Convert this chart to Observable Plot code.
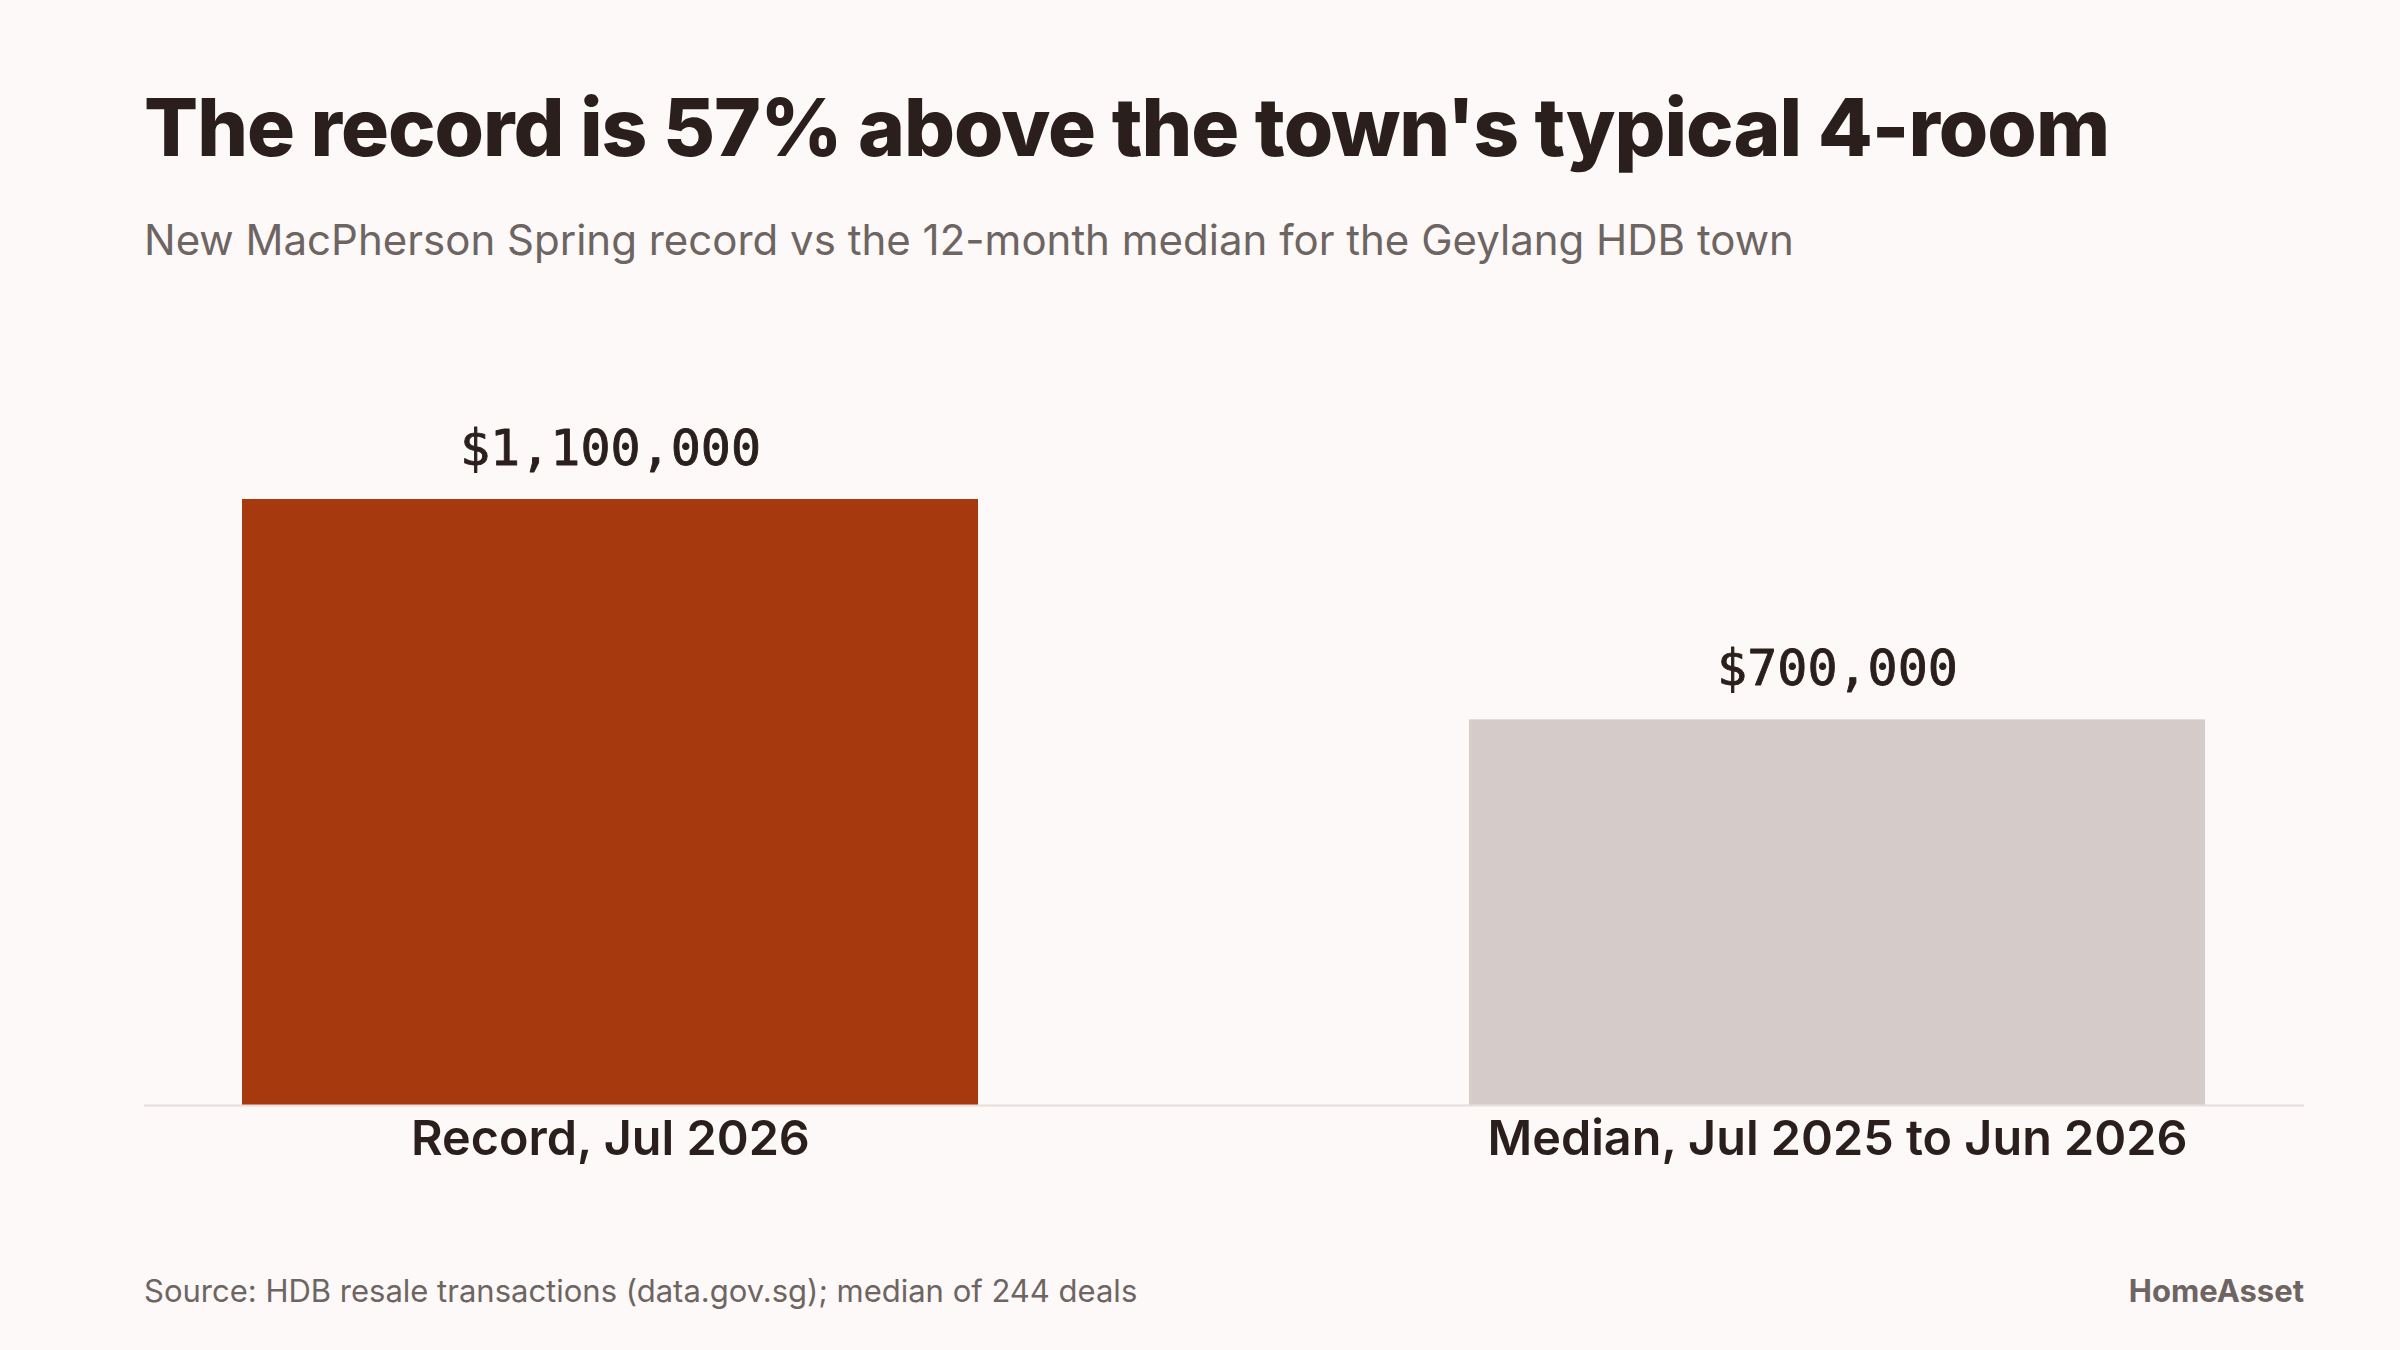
<!DOCTYPE html>
<html>
<head>
<meta charset="utf-8">
<script src="https://cdn.jsdelivr.net/npm/d3@7"></script>
<script src="https://cdn.jsdelivr.net/npm/@observablehq/plot@0.6"></script>
<style>
  html, body { margin: 0; padding: 0; background: #fdf9f8; }
  #page { position: relative; width: 2400px; height: 1350px; background: #fdf9f8; overflow: hidden; font-family: Inter, "Noto Sans", sans-serif; }
  #title { position: absolute; left: 144px; top: 87px; font-size: 80px; font-weight: 800; color: #2a1f1c; letter-spacing: -1px; white-space: nowrap; line-height: 1; }
  #subtitle { position: absolute; left: 144px; top: 219px; font-size: 42px; font-weight: 400; color: #6e6562; white-space: nowrap; line-height: 1; }
  #chart { position: absolute; left: 0; top: 300px; }
  #source { position: absolute; left: 144px; top: 1275px; font-size: 31px; color: #6e6562; white-space: nowrap; line-height: 1; }
  #brand { position: absolute; right: 96px; top: 1275px; font-size: 31px; font-weight: 700; color: #6e6562; white-space: nowrap; line-height: 1; }
</style>
</head>
<body>
<div id="page">
  <div id="title">The record is 57% above the town's typical 4-room</div>
  <div id="subtitle">New MacPherson Spring record vs the 12-month median for the Geylang HDB town</div>
  <div id="chart"></div>
  <div id="source">Source: HDB resale transactions (data.gov.sg); median of 244 deals</div>
  <div id="brand">HomeAsset</div>
</div>
<script>
const categories = ["Record, Jul 2026", "Median, Jul 2025 to Jun 2026"];
const values = [1100000, 700000];
const valueLabels = ["$1,100,000", "$700,000"];
const barColors = ["#a63a0e", "#d5ccc9"];

const data = categories.map((c, i) => ({category: c, value: values[i], label: valueLabels[i]}));

const chart = Plot.plot({
  width: 2400,
  height: 900,
  marginLeft: 144,
  marginRight: 96,
  marginTop: 199,
  marginBottom: 95,
  style: {background: "transparent", fontFamily: "Inter, 'Noto Sans', sans-serif", color: "#2a1f1c"},
  x: {domain: categories, paddingInner: 0.4, paddingOuter: 0.08, label: null},
  y: {domain: [0, 1100000], axis: null},
  color: {domain: categories, range: barColors},
  marks: [
    Plot.barY(data, {x: "category", y: "value", fill: "category"}),
    Plot.ruleY([0], {stroke: "#e6dfdc", strokeWidth: 2}),
    Plot.text(data, {x: "category", y: "value", text: "label", dy: -35, lineAnchor: "bottom",
      fontFamily: "'DejaVu Sans Mono', monospace", fontSize: 50, fill: "#2a1f1c", stroke: "#2a1f1c", strokeWidth: 0.9}),
    Plot.axisX({tickSize: 0, tickPadding: 15, fontSize: 48.5, fontWeight: 600, fill: "#2a1f1c", label: null})
  ]
});
document.getElementById("chart").appendChild(chart);
</script>
</body>
</html>
